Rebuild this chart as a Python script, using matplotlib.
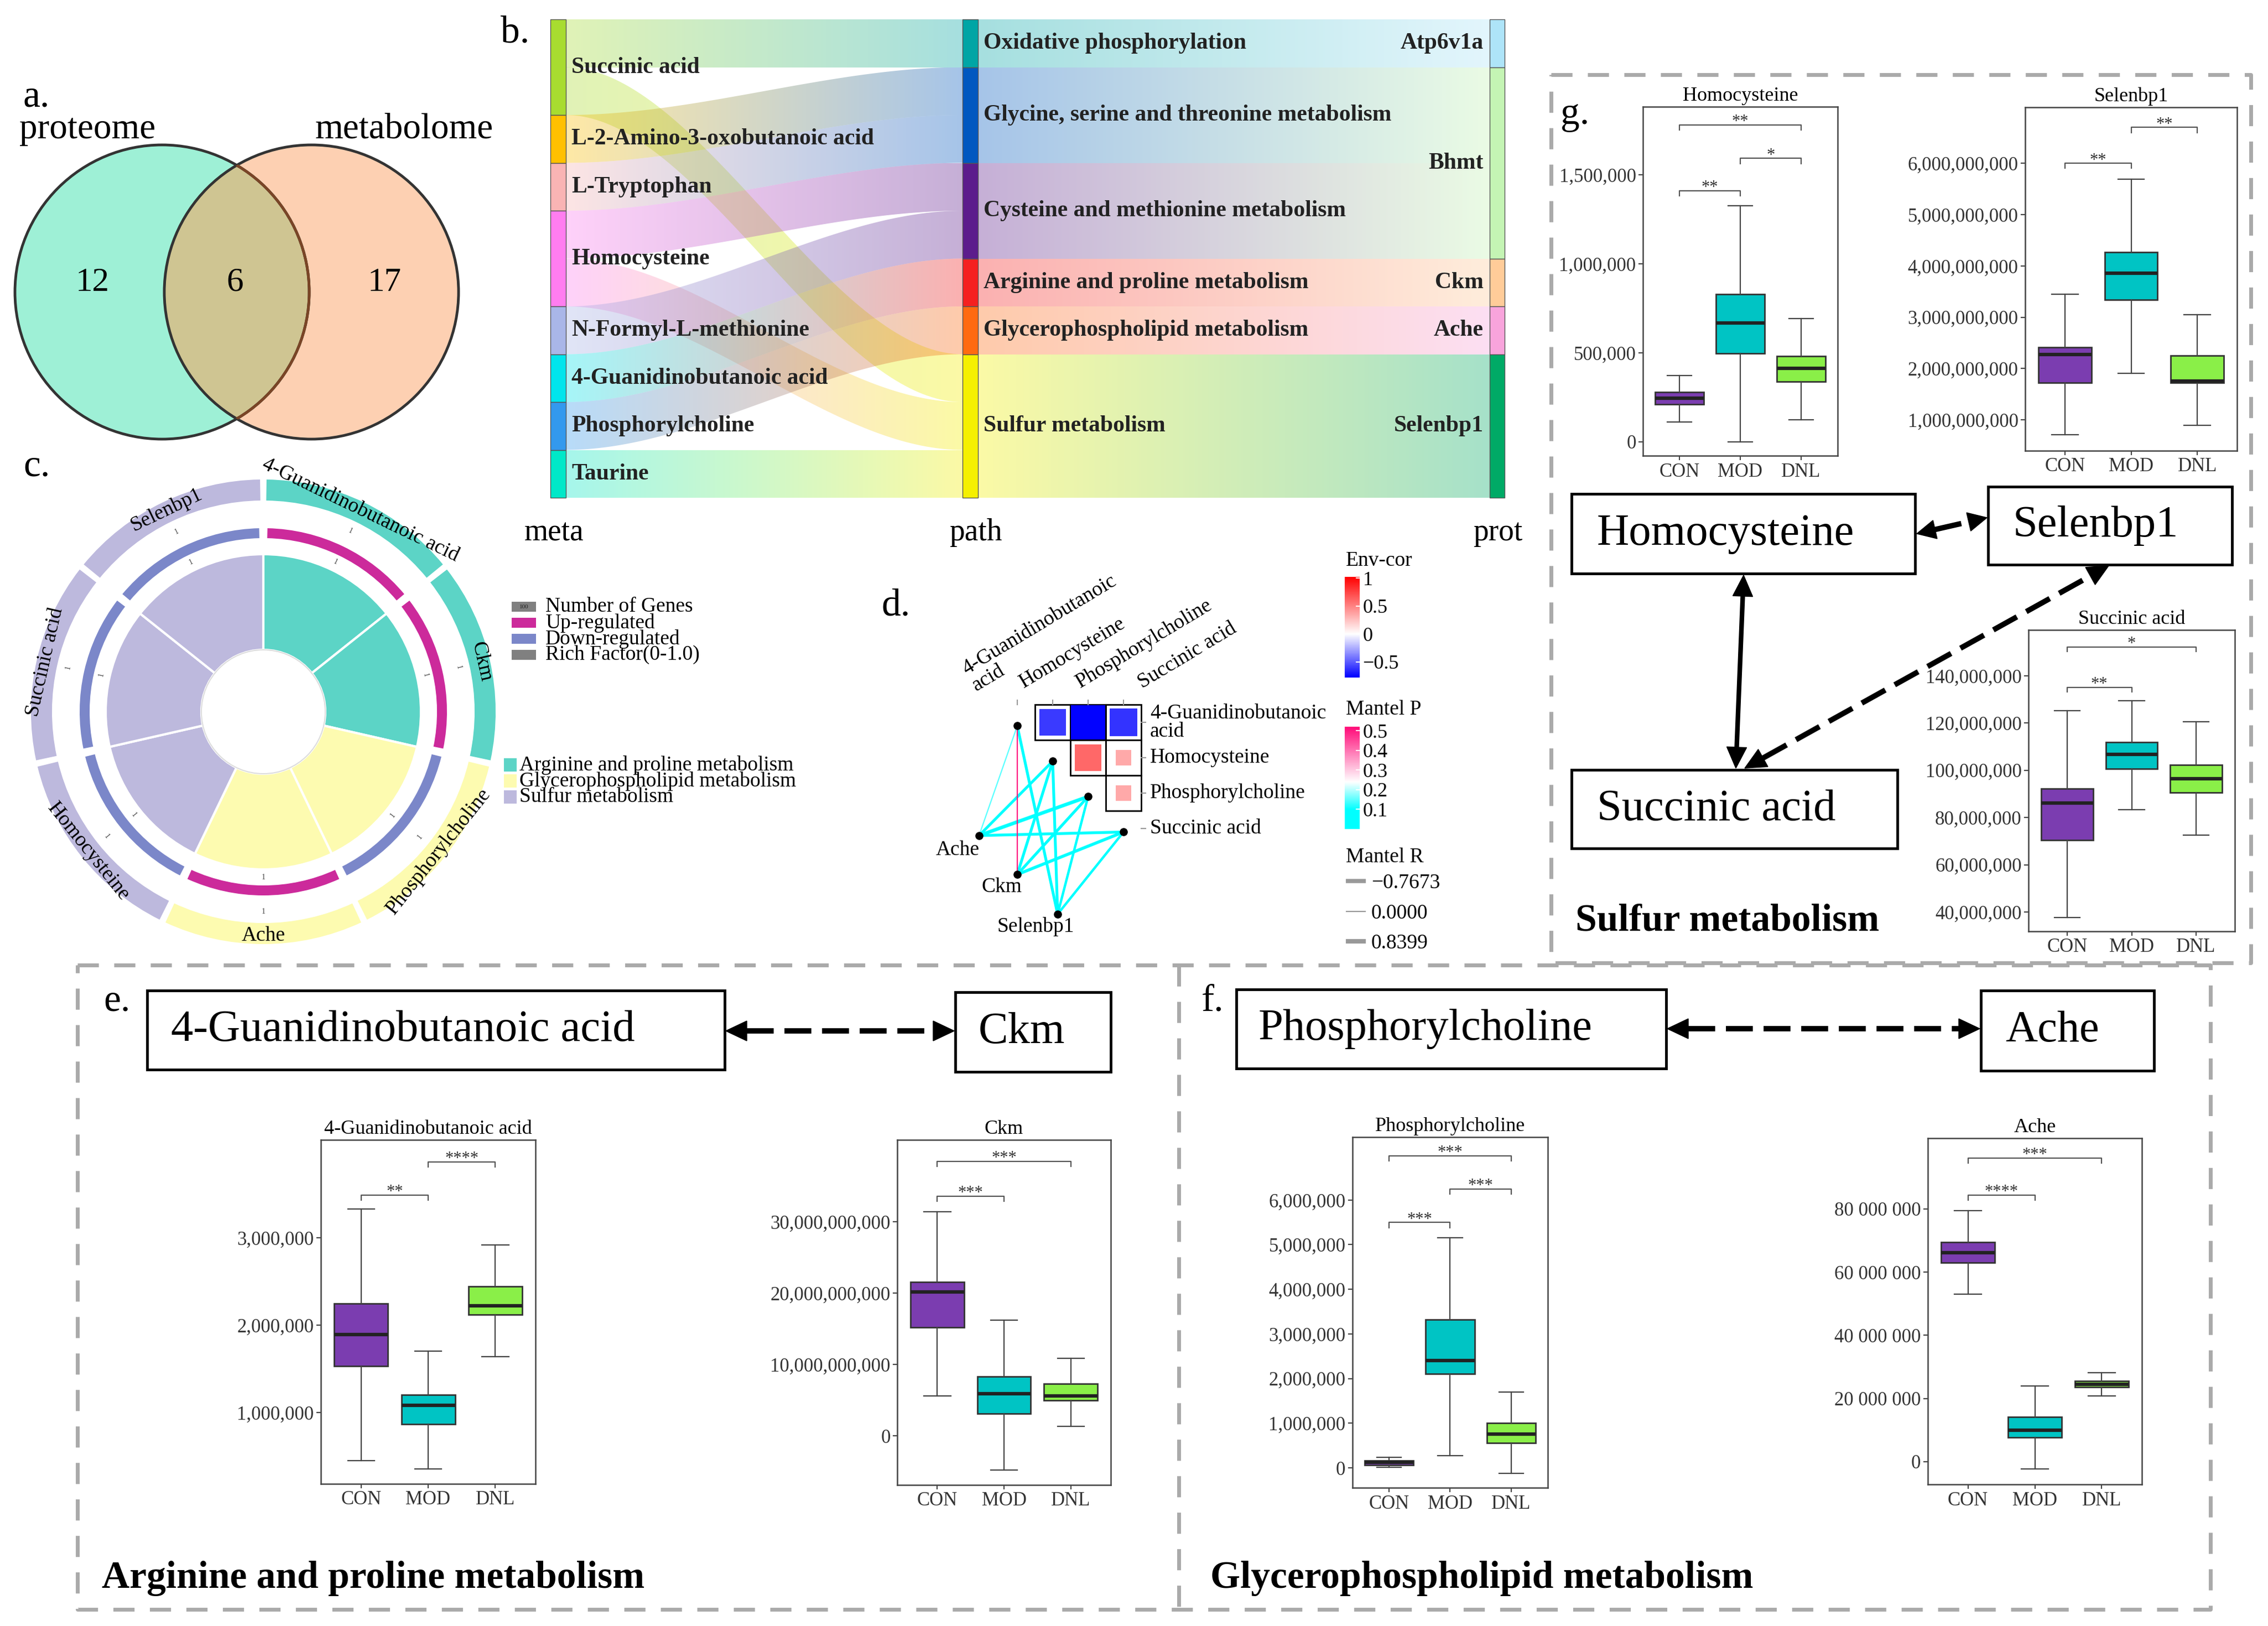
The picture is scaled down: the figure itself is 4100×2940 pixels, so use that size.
import numpy as np
import matplotlib
matplotlib.use("Agg")
import matplotlib.pyplot as plt
from matplotlib.patches import Rectangle, Circle, Wedge, Polygon
from matplotlib.colors import LinearSegmentedColormap, Normalize, to_rgb
from matplotlib.cm import ScalarMappable

plt.rcParams["font.family"] = ["Liberation Serif", "DejaVu Serif"]

# ---------------- data ----------------
# a. venn
venn_names = ["proteome", "metabolome"]
venn_counts = [12, 6, 17]          # proteome only, shared, metabolome only

# b. sankey
meta_nodes = ["Succinic acid", "L-2-Amino-3-oxobutanoic acid", "L-Tryptophan", "Homocysteine",
              "N-Formyl-L-methionine", "4-Guanidinobutanoic acid", "Phosphorylcholine", "Taurine"]
meta_colors = ["#a8dc30", "#ffc000", "#f9b4b4", "#ff7df0", "#a9b6e8", "#00e5ec", "#3399ee", "#00e8c8"]
path_nodes = ["Oxidative phosphorylation", "Glycine, serine and threonine metabolism",
              "Cysteine and methionine metabolism", "Arginine and proline metabolism",
              "Glycerophospholipid metabolism", "Sulfur metabolism"]
path_colors = ["#00a5a5", "#0058c0", "#5c1c8c", "#f52020", "#ff6a10", "#f5f000"]
prot_nodes = ["Atp6v1a", "Bhmt", "Ckm", "Ache", "Selenbp1"]
prot_colors = ["#aee4f8", "#c4f4b4", "#ffcc99", "#f8a4dc", "#00aa66"]
meta_path_links = [
    ("Succinic acid", "Oxidative phosphorylation", 1),
    ("Succinic acid", "Sulfur metabolism", 1),
    ("L-2-Amino-3-oxobutanoic acid", "Glycine, serine and threonine metabolism", 1),
    ("L-Tryptophan", "Glycine, serine and threonine metabolism", 1),
    ("Homocysteine", "Cysteine and methionine metabolism", 1),
    ("Homocysteine", "Sulfur metabolism", 1),
    ("N-Formyl-L-methionine", "Cysteine and methionine metabolism", 1),
    ("4-Guanidinobutanoic acid", "Arginine and proline metabolism", 1),
    ("Phosphorylcholine", "Glycerophospholipid metabolism", 1),
    ("Taurine", "Sulfur metabolism", 1),
]
path_prot_links = [
    ("Oxidative phosphorylation", "Atp6v1a", 1),
    ("Glycine, serine and threonine metabolism", "Bhmt", 2),
    ("Cysteine and methionine metabolism", "Bhmt", 2),
    ("Arginine and proline metabolism", "Ckm", 1),
    ("Glycerophospholipid metabolism", "Ache", 1),
    ("Sulfur metabolism", "Selenbp1", 3),
]

# c. circos
circ_items = ["4-Guanidinobutanoic acid", "Ckm", "Phosphorylcholine", "Ache",
              "Homocysteine", "Succinic acid", "Selenbp1"]
circ_pathway = ["Arginine and proline metabolism", "Arginine and proline metabolism",
                "Glycerophospholipid metabolism", "Glycerophospholipid metabolism",
                "Sulfur metabolism", "Sulfur metabolism", "Sulfur metabolism"]
circ_regulation = ["up", "up", "down", "up", "down", "down", "down"]
circ_genes = [1, 1, 1, 1, 1, 1, 1]
circ_rich = [1.0, 1.0, 1.0, 1.0, 1.0, 1.0, 1.0]
pathway_names = ["Arginine and proline metabolism", "Glycerophospholipid metabolism", "Sulfur metabolism"]
pathway_colors = ["#5cd4c6", "#fdfbb0", "#bdb9dd"]

# d. mantel
env_vars = ["4-Guanidinobutanoic acid", "Homocysteine", "Phosphorylcholine", "Succinic acid"]
env_cor = [[1.0, -0.60, -0.77, -0.62],
           [-0.60, 1.0, 0.60, 0.34],
           [-0.77, 0.60, 1.0, 0.34],
           [-0.62, 0.34, 0.34, 1.0]]
prot_vars = ["Ache", "Ckm", "Selenbp1"]
mantel_r = [[0.10, 0.60, 0.84, 0.62],
            [0.10, 0.62, 0.62, 0.70],
            [0.62, 0.62, 0.50, 0.50]]
mantel_p = [[0.15, 0.01, 0.01, 0.01],
            [0.50, 0.01, 0.01, 0.01],
            [0.01, 0.01, 0.02, 0.02]]
mantel_r_legend = [-0.7673, 0.0, 0.8399]

# e-g. boxplots: whisker low, Q1, median, Q3, whisker high for CON, MOD, DNL
groups = ["CON", "MOD", "DNL"]
group_colors = ["#7b3db0", "#00c4c4", "#8aef48"]
hcy_box = [[112e3, 211e3, 245e3, 280e3, 373e3],
           [0, 497e3, 668e3, 829e3, 1326e3],
           [124e3, 338e3, 413e3, 481e3, 693e3]]
sel_box = [[0.71e9, 1.73e9, 2.27e9, 2.41e9, 3.45e9],
           [1.91e9, 3.34e9, 3.86e9, 4.27e9, 5.69e9],
           [0.90e9, 1.72e9, 1.76e9, 2.25e9, 3.05e9]]
suc_box = [[37.7e6, 70.4e6, 86.1e6, 92.2e6, 125.2e6],
           [83.3e6, 100.6e6, 106.7e6, 111.8e6, 129.4e6],
           [72.6e6, 90.6e6, 96.4e6, 102.3e6, 120.5e6]]
gba_box = [[0.45e6, 1.53e6, 1.89e6, 2.25e6, 3.33e6],
           [0.355e6, 0.87e6, 1.08e6, 1.20e6, 1.70e6],
           [1.64e6, 2.12e6, 2.22e6, 2.44e6, 2.92e6]]
ckm_box = [[5.6e9, 15.2e9, 20.2e9, 21.6e9, 31.4e9],
           [-4.8e9, 3.1e9, 5.9e9, 8.3e9, 16.2e9],
           [1.3e9, 5.0e9, 5.6e9, 7.3e9, 10.9e9]]
pc_box = [[0.01e6, 0.06e6, 0.12e6, 0.16e6, 0.23e6],
          [0.27e6, 2.11e6, 2.41e6, 3.32e6, 5.16e6],
          [-0.12e6, 0.56e6, 0.76e6, 1.0e6, 1.70e6]]
ache_box = [[53.0e6, 63.0e6, 66.2e6, 69.5e6, 79.5e6],
            [-2.3e6, 7.6e6, 9.9e6, 14.1e6, 24.0e6],
            [20.8e6, 23.6e6, 24.5e6, 25.5e6, 28.1e6]]
# significance: group i, group j, bracket height, label
hcy_sig = [(0, 1, 1.41e6, "**"), (1, 2, 1.593e6, "*"), (0, 2, 1.78e6, "**")]
sel_sig = [(0, 1, 6.0e9, "**"), (1, 2, 6.70e9, "**")]
suc_sig = [(0, 1, 135.1e6, "**"), (0, 2, 152.2e6, "*")]
gba_sig = [(0, 1, 3.49e6, "**"), (1, 2, 3.87e6, "****")]
ckm_sig = [(0, 1, 33.6e9, "***"), (0, 2, 38.5e9, "***")]
pc_sig = [(0, 1, 5.50e6, "***"), (1, 2, 6.25e6, "***"), (0, 2, 6.99e6, "***")]
ache_sig = [(0, 1, 84.4e6, "****"), (0, 2, 96.1e6, "***")]

# ---------------- figure ----------------
W, H = 4100, 2940
fig = plt.figure(figsize=(W / 100, H / 100), dpi=100)


def px_axes(x0, y0, x1, y1):
    return fig.add_axes([x0 / W, 1 - y1 / H, (x1 - x0) / W, (y1 - y0) / H])


ov = px_axes(0, 0, W, H)
ov.axis("off")

# panel letters
for lab, x, y in [("a.", 41, 176), ("b.", 905, 60), ("c.", 42, 844), ("d.", 1593, 1096),
                  ("e.", 187, 1811), ("f.", 2172, 1811), ("g.", 2821, 207)]:
    ov.text(x, y, lab, fontsize=50, ha="left", va="center")

# ---- a. venn ----
ca, cb, rv = (293, 528), (563, 528), 266
ov.add_patch(Circle(ca, rv, fc="#9ef0d6", ec="none", zorder=1))
ov.add_patch(Circle(cb, rv, fc="#fdd0b2", ec="none", zorder=1))
inter = Circle(ca, rv, fc="#cfc592", ec="none", zorder=2)
ov.add_patch(inter)
inter.set_clip_path(Circle(cb, rv, transform=ov.transData))
ov.add_patch(Circle(ca, rv, fc="none", ec="#333333", lw=3.5, zorder=3))
brown = Circle(ca, rv, fc="none", ec="#7a4526", lw=3.5, zorder=4)
ov.add_patch(brown)
brown.set_clip_path(Circle(cb, rv, transform=ov.transData))
ov.add_patch(Circle(cb, rv, fc="none", ec="#333333", lw=3.5, zorder=3))
ov.text(35, 234, venn_names[0], fontsize=47, ha="left", va="center")
ov.text(892, 234, venn_names[1], fontsize=47, ha="right", va="center")
for x, v in zip([167, 425, 695], venn_counts):
    ov.text(x, 511, str(v), fontsize=44, ha="center", va="center", zorder=5)

# ---- b. sankey ----
col_x = {"meta": (995, 1023), "path": (1740, 1768), "prot": (2693, 2720)}
y_top, unit = 35, 86.5


def stack(nodes, sizes):
    pos, y = {}, 0.0
    for n in nodes:
        pos[n] = y
        y += sizes[n]
    return pos


def attach(links, src_nodes, tgt_nodes, src_pos, tgt_pos):
    s_off, t_off = dict(src_pos), dict(tgt_pos)
    ys, yt = {}, {}
    idx = range(len(links))
    for k in sorted(idx, key=lambda k: (src_nodes.index(links[k][0]), tgt_nodes.index(links[k][1]))):
        ys[k] = s_off[links[k][0]]
        s_off[links[k][0]] += links[k][2]
    for k in sorted(idx, key=lambda k: (tgt_nodes.index(links[k][1]), src_nodes.index(links[k][0]))):
        yt[k] = t_off[links[k][1]]
        t_off[links[k][1]] += links[k][2]
    return ys, yt


def band(x0, x1, s0, s1, t0, t1, c0, c1, alpha=0.35):
    t = np.linspace(0, 1, 90)
    e = 3 * t ** 2 - 2 * t ** 3
    xs = x0 + (x1 - x0) * t
    top = s0 + (t0 - s0) * e
    bot = s1 + (t1 - s1) * e
    verts = np.vstack([np.column_stack([xs, top]), np.column_stack([xs[::-1], bot[::-1]])])
    poly = Polygon(verts, closed=True, fc="none", ec="none")
    ov.add_patch(poly)
    g = np.linspace(0, 1, 256)[None, :, None]
    rgb = (1 - g) * np.array(to_rgb(c0)) + g * np.array(to_rgb(c1))
    rgba = np.concatenate([rgb, np.full((1, 256, 1), alpha)], axis=2)
    im = ov.imshow(rgba, extent=[x0, x1, verts[:, 1].max(), verts[:, 1].min()],
                   aspect="auto", interpolation="bilinear", zorder=1)
    im.set_clip_path(poly)


meta_size = {n: sum(v for s, t, v in meta_path_links if s == n) for n in meta_nodes}
path_size = {n: max(sum(v for s, t, v in meta_path_links if t == n),
                    sum(v for s, t, v in path_prot_links if s == n)) for n in path_nodes}
prot_size = {n: sum(v for s, t, v in path_prot_links if t == n) for n in prot_nodes}
meta_pos, path_pos, prot_pos = stack(meta_nodes, meta_size), stack(path_nodes, path_size), stack(prot_nodes, prot_size)
meta_col = dict(zip(meta_nodes, meta_colors))
path_col = dict(zip(path_nodes, path_colors))
prot_col = dict(zip(prot_nodes, prot_colors))

for links, sn, tn, sp, tp, sc, tc, xa, xb in [
        (meta_path_links, meta_nodes, path_nodes, meta_pos, path_pos, meta_col, path_col, "meta", "path"),
        (path_prot_links, path_nodes, prot_nodes, path_pos, prot_pos, path_col, prot_col, "path", "prot")]:
    ys, yt = attach(links, sn, tn, sp, tp)
    for k, (s, t, v) in enumerate(links):
        band(col_x[xa][1], col_x[xb][0],
             y_top + ys[k] * unit, y_top + (ys[k] + v) * unit,
             y_top + yt[k] * unit, y_top + (yt[k] + v) * unit, sc[s], tc[t])

for nodes, pos, size, cols, key in [(meta_nodes, meta_pos, meta_size, meta_col, "meta"),
                                    (path_nodes, path_pos, path_size, path_col, "path"),
                                    (prot_nodes, prot_pos, prot_size, prot_col, "prot")]:
    x0, x1 = col_x[key]
    for n in nodes:
        ov.add_patch(Rectangle((x0, y_top + pos[n] * unit), x1 - x0, size[n] * unit,
                               fc=cols[n], ec="#555555", lw=1, zorder=3))
        yc = y_top + (pos[n] + size[n] / 2) * unit
        if key == "prot":
            ov.text(2682, yc, n, fontsize=30, fontweight="bold", ha="right", va="center", color="#222", zorder=4)
        else:
            ov.text(x1 + 10, yc, n, fontsize=30, fontweight="bold", ha="left", va="center", color="#222", zorder=4)
for lab, x in [("meta", 1002), ("path", 1764), ("prot", 2708)]:
    ov.text(x, 963, lab, fontsize=40, ha="center", va="center")

# ---- c. circos ----
cx, cy = 476, 1287
ax_c = px_axes(cx - 460, cy - 460, cx + 460, cy + 460)
ax_c.set_xlim(-460, 460)
ax_c.set_ylim(-460, 460)
ax_c.axis("off")
ax_c.patch.set_visible(False)
n_items = len(circ_items)
step = 360 / n_items
pw_col = dict(zip(pathway_names, pathway_colors))
reg_col = {"up": "#cc2a9b", "down": "#7b87c9"}
r_in, r_pie = 112, 285
for k, item in enumerate(circ_items):
    t2 = 90 - k * step
    t1 = t2 - step
    mid = np.deg2rad((t1 + t2) / 2)
    col = pw_col[circ_pathway[k]]
    ax_c.add_patch(Wedge((0, 0), r_in + (r_pie - r_in) * circ_rich[k], t1, t2,
                         width=(r_pie - r_in) * circ_rich[k], fc=col, ec="white", lw=3))
    ax_c.add_patch(Wedge((0, 0), 332, t1 + 1.3, t2 - 1.3, width=18, fc=reg_col[circ_regulation[k]], ec="none"))
    ax_c.add_patch(Wedge((0, 0), 420, t1 + 0.8, t2 - 0.8, width=38, fc=col, ec="none"))
    ang = np.rad2deg(mid)
    rot = ang - 90 if np.sin(mid) > 0.05 or abs(np.cos(mid)) > 0.97 and np.sin(mid) > -0.3 else ang + 90
    ax_c.text(405 * np.cos(mid), 405 * np.sin(mid), item, fontsize=27, rotation=rot,
              rotation_mode="anchor", ha="center", va="center", clip_on=False)
    ax_c.text(362 * np.cos(mid), 362 * np.sin(mid), str(circ_genes[k]), fontsize=10, rotation=rot,
              ha="center", va="center", color="#444")
    ax_c.text(300 * np.cos(mid), 300 * np.sin(mid), str(circ_genes[k]), fontsize=10, rotation=rot,
              ha="center", va="center", color="#444")
ax_c.add_patch(Circle((0, 0), r_in, fc="white", ec="#dddddd", lw=1.5))

leg1 = ["Number of Genes", "Up-regulated", "Down-regulated", "Rich Factor(0-1.0)"]
leg1_colors = ["#808080", reg_col["up"], reg_col["down"], "#808080"]
for y, lab, col in zip([1097, 1126, 1155, 1184], leg1, leg1_colors):
    ov.add_patch(Rectangle((925, y - 9), 44, 18, fc=col, ec="none"))
    if lab == "Number of Genes":
        ov.text(947, y, "100", fontsize=8, ha="center", va="center", color="#222")
    ov.text(986, y, lab, fontsize=27, ha="left", va="center")
for y, lab, col in zip([1383, 1412, 1441], pathway_names, pathway_colors):
    ov.add_patch(Rectangle((911, y - 12), 23, 24, fc=col, ec="none"))
    ov.text(939, y, lab, fontsize=27, ha="left", va="center")

# ---- d. mantel ----
cell, c0x, c0y = 64, 1839, 1306
ax_d = px_axes(1570, 980, 2770, 1740)
ax_d.set_xlim((1570 - c0x) / cell, (2770 - c0x) / cell)
ax_d.set_ylim((1740 - c0y) / cell, (980 - c0y) / cell)
ax_d.axis("off")
ax_d.patch.set_visible(False)
cor_norm = Normalize(-0.78, 1.02)
cor_cmap = LinearSegmentedColormap.from_list("envcor", [(0, "#0000ff"), (0.433, "#ffffff"), (1, "#ff0000")])
p_norm = Normalize(0, 0.52)
p_cmap = LinearSegmentedColormap.from_list("mp", [(0, "#00ffff"), (0.19, "#00ffff"), (0.46, "#ffffff"), (1, "#ff0a78")])
nv = len(env_vars)
for i in range(nv):
    for j in range(i + 1, nv):
        r = env_cor[i][j]
        ax_d.add_patch(Rectangle((j - 0.5, i - 0.5), 1, 1, fc="white", ec="black", lw=2, zorder=2))
        s = min(1.0, abs(r) / 0.77) * 0.98
        ax_d.add_patch(Rectangle((j - s / 2, i - s / 2), s, s, fc=cor_cmap(cor_norm(r)), ec="none", zorder=3))
for j in range(nv):
    ax_d.plot([j, j], [-0.62, -0.5], color="#999", lw=1.5)
    ax_d.plot([3.5, 3.62], [j, j], color="#999", lw=1.5)
row_labels = ["4-Guanidinobutanoic\nacid", "Homocysteine", "Phosphorylcholine", "Succinic acid"]
for i, lab in enumerate(row_labels):
    ax_d.text(3.75, i, lab, fontsize=27, ha="left", va="center", linespacing=0.95)
col_anchor = [(-1.16, -0.88), (0.19, -0.97), (1.78, -0.97), (3.53, -0.95)]
for (x, y), lab in zip(col_anchor, row_labels):
    ax_d.text(x, y, lab, fontsize=27, rotation=31, rotation_mode="anchor", ha="left", va="baseline",
              linespacing=1.0)
env_xy = [(i, i + 0.1) for i in range(nv)]
prot_xy = [(-1.08, 3.2), (0.0, 4.3), (1.14, 5.42)]
prot_lab_xy = [(-1.69, 3.6), (-0.44, 4.65), (0.52, 5.78)]
for pi, (px_, py_) in enumerate(prot_xy):
    for ei, (ex, ey) in enumerate(env_xy):
        ax_d.plot([px_, ex], [py_, ey], color=p_cmap(p_norm(mantel_p[pi][ei])),
                  lw=1.2 + 4.0 * abs(mantel_r[pi][ei]), solid_capstyle="round",
                  zorder=1 + mantel_p[pi][ei])
ax_d.scatter([p[0] for p in prot_xy], [p[1] for p in prot_xy], s=90, color="black", zorder=4)
ax_d.scatter([p[0] for p in env_xy], [p[1] for p in env_xy], s=90, color="black", zorder=4)
for (x, y), lab in zip(prot_lab_xy, prot_vars):
    ax_d.text(x, y, lab, fontsize=27, ha="center", va="center")

cax1 = px_axes(2431, 1043, 2458, 1225)
cb1 = fig.colorbar(ScalarMappable(cor_norm, cor_cmap), cax=cax1, ticks=[-0.5, 0, 0.5, 1])
cb1.outline.set_visible(False)
cb1.ax.set_yticklabels(["\u22120.5", "0", "0.5", "1"])
cb1.ax.tick_params(labelsize=26, length=5, color="white", width=1.5, direction="in", pad=4)
cax2 = px_axes(2431, 1314, 2458, 1499)
cb2 = fig.colorbar(ScalarMappable(p_norm, p_cmap), cax=cax2, ticks=[0.1, 0.2, 0.3, 0.4, 0.5])
cb2.outline.set_visible(False)
cb2.ax.tick_params(labelsize=26, length=5, color="white", width=1.5, direction="in", pad=4)
ov.text(2433, 1014, "Env-cor", fontsize=27, ha="left", va="center")
ov.text(2433, 1283, "Mantel P", fontsize=27, ha="left", va="center")
ov.text(2433, 1550, "Mantel R", fontsize=27, ha="left", va="center")
for y, v in zip([1593, 1648, 1702], mantel_r_legend):
    ov.plot([2433, 2469], [y, y], color="#999999", lw=1.6 + 5 * abs(v), solid_capstyle="butt")
    ov.text(2479, y + 4, f"{v:.4f}".replace("-", "\u2212"), fontsize=27, ha="left", va="center")

# ---- dashed panel frames ----
dash = dict(color="#aaaaaa", lw=5, linestyle=(0, (5.5, 4)))
ov.plot([2804, 4069, 4069, 2804, 2804], [135, 135, 1741, 1741, 135], **dash)
ov.plot([140, 3996, 3996, 140, 140], [1745, 1745, 2910, 2910, 1745], **dash)
ov.plot([2131, 2131], [1745, 2910], **dash)

# ---- boxes with names and arrows ----
name_boxes = [((2841, 893, 3462, 1037), "Homocysteine", 2887),
              ((3594, 880, 4035, 1021), "Selenbp1", 3639),
              ((2841, 1392, 3430, 1534), "Succinic acid", 2887),
              ((266, 1791, 1310, 1934), "4-Guanidinobutanoic acid", 309),
              ((1727, 1794, 2008, 1938), "Ckm", 1769),
              ((2235, 1789, 3012, 1932), "Phosphorylcholine", 2275),
              ((3581, 1791, 3894, 1936), "Ache", 3625)]
for (x0, y0, x1, y1), lab, tx in name_boxes:
    ov.add_patch(Rectangle((x0, y0), x1 - x0, y1 - y0, fc="white", ec="black", lw=3.5, zorder=3))
    ov.text(tx, (y0 + y1) / 2, lab, fontsize=58, ha="left", va="center", zorder=4)


def dbl_arrow(p0, p1, dashed=True, lw=7, hl=38, hw=36):
    p0, p1 = np.array(p0, float), np.array(p1, float)
    d = (p1 - p0) / np.linalg.norm(p1 - p0)
    nrm = np.array([-d[1], d[0]])
    a, b = p0 + d * hl, p1 - d * hl
    ls = (0, (5, 2)) if dashed else "-"
    ov.plot([a[0], b[0]], [a[1], b[1]], color="black", lw=lw, linestyle=ls, solid_capstyle="butt",
            dash_capstyle="butt", zorder=5)
    for tip, base in ((p0, a), (p1, b)):
        ov.add_patch(Polygon([tip, base + nrm * hw / 2, base - nrm * hw / 2], closed=True,
                             fc="black", ec="black", lw=1, zorder=5))


dbl_arrow((1312, 1864), (1725, 1864))
dbl_arrow((3014, 1860), (3579, 1860))
dbl_arrow((3465, 965), (3592, 936), hl=34, hw=34)
dbl_arrow((3152, 1040), (3138, 1389), dashed=False, lw=6)
dbl_arrow((3154, 1389), (3812, 1023))

for x, y, lab in [(2848, 1665, "Sulfur metabolism"), (184, 2854, "Arginine and proline metabolism"),
                  (2188, 2854, "Glycerophospholipid metabolism")]:
    ov.text(x, y, lab, fontsize=50, fontweight="bold", ha="left", va="center")

ov.set_xlim(0, W)
ov.set_ylim(H, 0)


# ---- boxplots ----
def box_panel(rect, title, stats, ylim, yticks, sig, space_sep=False):
    ax = px_axes(*rect)
    bstats = [dict(whislo=s[0], q1=s[1], med=s[2], q3=s[3], whishi=s[4], fliers=[], label=g)
              for s, g in zip(stats, groups)]
    bp = ax.bxp(bstats, positions=[1, 2, 3], widths=0.8, capwidths=0.4, patch_artist=True,
                showfliers=False,
                boxprops=dict(edgecolor="#333333", linewidth=2),
                medianprops=dict(color="#222222", linewidth=4.5),
                whiskerprops=dict(color="#444444", linewidth=1.6),
                capprops=dict(color="#444444", linewidth=1.6))
    for p, c in zip(bp["boxes"], group_colors):
        p.set_facecolor(c)
    ax.set_xlim(0.4, 3.6)
    ax.set_ylim(*ylim)
    ax.set_yticks(yticks)
    labels = [f"{v:,.0f}" for v in yticks]
    if space_sep:
        labels = [l.replace(",", " ") for l in labels]
    ax.set_yticklabels(labels)
    ax.set_xticks([1, 2, 3])
    ax.set_xticklabels(groups)
    ax.tick_params(labelsize=25, length=6, width=1.5, color="#444444", labelcolor="#333333", pad=3)
    for sp in ax.spines.values():
        sp.set_color("#444444")
        sp.set_linewidth(1.8)
    ax.set_title(title, fontsize=26, pad=8)
    rng = ylim[1] - ylim[0]
    for i, j, y, lab in sig:
        ax.plot([i + 1, i + 1, j + 1, j + 1], [y - 0.015 * rng, y, y, y - 0.015 * rng], color="#555555", lw=1.6)
        ax.text((i + j) / 2 + 1, y - 0.004 * rng, lab, ha="center", va="baseline", fontsize=22, color="#333333")
    return ax


box_panel((2970, 193, 3322, 824), "Homocysteine", hcy_box, (-78e3, 1.882e6), [0, 5e5, 1e6, 1.5e6], hcy_sig)
box_panel((3661, 194, 4044, 815), "Selenbp1", sel_box, (0.40e9, 7.09e9), [1e9, 2e9, 3e9, 4e9, 5e9, 6e9], sel_sig)
box_panel((3667, 1139, 4040, 1684), "Succinic acid", suc_box, (31.8e6, 159.4e6),
          [40e6, 60e6, 80e6, 100e6, 120e6, 140e6], suc_sig)
box_panel((580, 2061, 968, 2683), "4-Guanidinobutanoic acid", gba_box, (0.184e6, 4.12e6), [1e6, 2e6, 3e6], gba_sig)
box_panel((1622, 2061, 2008, 2685), "Ckm", ckm_box, (-6.9e9, 41.5e9), [0, 10e9, 20e9, 30e9], ckm_sig)
box_panel((2445, 2056, 2798, 2690), "Phosphorylcholine", pc_box, (-0.446e6, 7.41e6),
          [0, 1e6, 2e6, 3e6, 4e6, 5e6, 6e6], pc_sig)
box_panel((3485, 2058, 3872, 2684), "Ache", ache_box, (-7.2e6, 102.4e6), [0, 20e6, 40e6, 60e6, 80e6],
          ache_sig, space_sep=True)

fig.savefig("out.png", dpi=100, facecolor="white")
